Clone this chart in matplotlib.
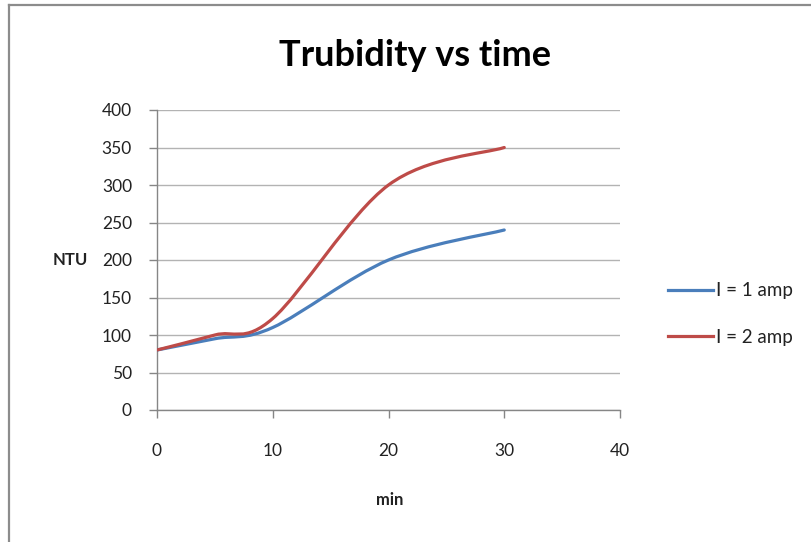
import matplotlib
matplotlib.use("Agg")
import matplotlib.pyplot as plt
from matplotlib.path import Path
from matplotlib.patches import PathPatch
from matplotlib.lines import Line2D
import numpy as np

plt.rcParams["font.family"] = ["Lato", "DejaVu Sans"]

# data
time_min = [0, 5, 10, 20, 30]
ntu_1amp = [80, 95, 110, 200, 240]
ntu_2amp = [80, 100, 122, 300, 350]

BLUE = "#4a7ebb"
RED = "#be4b48"
GRID = "#b3b3b3"
AXIS = "#868686"
W, H = 812, 542


def smooth_path(xs, ys):
    """Excel-style smoothed line: cubic bezier through the points"""
    p = np.column_stack([xs, ys]).astype(float)
    n = len(p)
    verts = [p[0]]
    codes = [Path.MOVETO]
    for i in range(n - 1):
        p0 = p[i - 1] if i > 0 else p[i]
        p3 = p[i + 2] if i + 2 < n else p[i + 1]
        c1 = p[i] + (p[i + 1] - p0) / 6
        c2 = p[i + 1] - (p3 - p[i]) / 6
        verts += [c1, c2, p[i + 1]]
        codes += [Path.CURVE4] * 3
    return Path(verts, codes)


fig = plt.figure(figsize=(W / 100, H / 100), dpi=100)
fig.patch.set_facecolor("white")

# chart frame (left and top edges visible)
fig.add_artist(Line2D([9 / W, 9 / W], [0, 1 - 5 / H], color="#8c8c8c", lw=1.6))
fig.add_artist(Line2D([9 / W, 1], [1 - 5 / H, 1 - 5 / H], color="#8c8c8c", lw=1.6))

ax = fig.add_axes([157 / W, 1 - 410 / H, (620 - 157) / W, 300 / H])
ax.set_xlim(0, 40)
ax.set_ylim(0, 400)
ax.set_xticks([0, 10, 20, 30, 40])
ax.set_yticks(range(0, 401, 50))
ax.grid(axis="y", color=GRID, lw=1.0)
ax.set_axisbelow(True)
for side in ("top", "right"):
    ax.spines[side].set_visible(False)
for side in ("left", "bottom"):
    ax.spines[side].set_color(AXIS)
    ax.spines[side].set_linewidth(1.0)
ax.tick_params(axis="both", direction="out", length=6, width=1.0, color=AXIS,
               labelsize=12.5, labelcolor="#222222")
ax.tick_params(axis="x", pad=18)
ax.tick_params(axis="y", pad=12)

for ys, col in ((ntu_1amp, BLUE), (ntu_2amp, RED)):
    ax.add_patch(PathPatch(smooth_path(time_min, ys), fill=False, edgecolor=col,
                           lw=2.3, capstyle="round", zorder=3))

fig.text(415 / W, 1 - 55 / H, "Trubidity vs time", ha="center", va="center",
         fontsize=26, fontweight="bold", color="black")
fig.text(70 / W, 1 - 260 / H, "NTU", ha="center", va="center",
         fontsize=12, fontweight="bold", color="#222222")
fig.text(390 / W, 1 - 500 / H, "min", ha="center", va="center",
         fontsize=12, fontweight="bold", color="#222222")

handles = [Line2D([], [], color=BLUE, lw=2.3), Line2D([], [], color=RED, lw=2.3)]
fig.legend(handles, ["I = 1 amp", "I = 2 amp"], loc="center left",
           bbox_to_anchor=(651 / W, 1 - 314 / H), frameon=False, fontsize=13.5,
           handlelength=2.4, handletextpad=0.15, labelspacing=1.55,
           labelcolor="#222222")

fig.savefig("out.png", dpi=100, facecolor="white")
